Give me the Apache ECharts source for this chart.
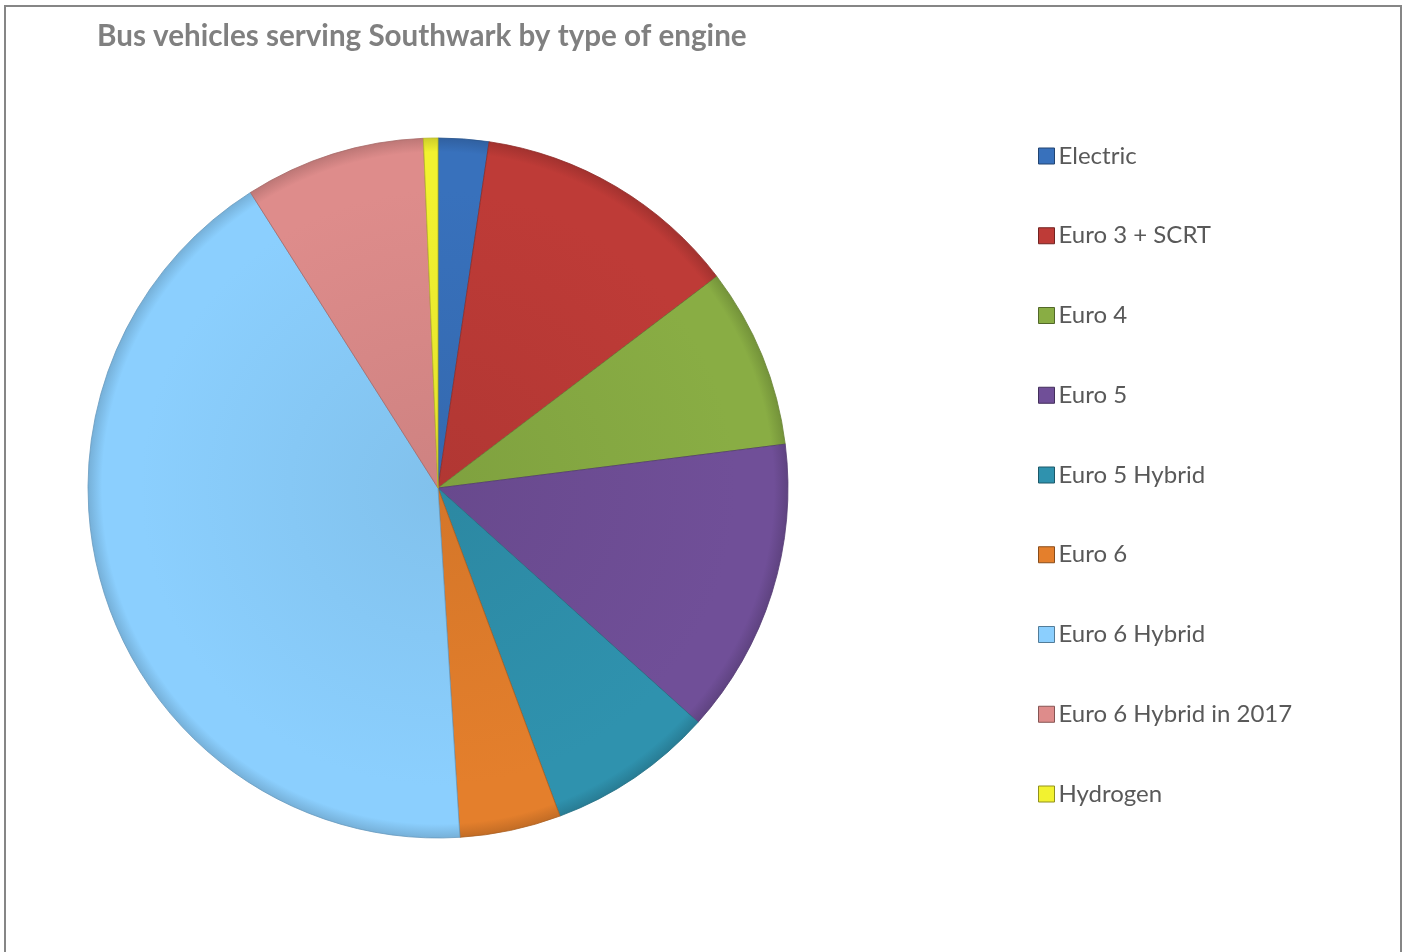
<!DOCTYPE html>
<html>
<head>
<meta charset="utf-8">
<script src="https://cdn.jsdelivr.net/npm/echarts@6/dist/echarts.min.js"></script>
<style>
html,body{margin:0;padding:0;background:#fff;}
#chart{width:1403px;height:952px;}
</style>
</head>
<body>
<div id="chart"></div>
<script>
const titleText = "Bus vehicles serving Southwark by type of engine";
const categories = ["Electric","Euro 3 + SCRT","Euro 4","Euro 5","Euro 5 Hybrid","Euro 6","Euro 6 Hybrid","Euro 6 Hybrid in 2017","Hydrogen"];
const values = [7, 37, 25, 41, 23, 14, 126, 25, 2];
const colors = ["#3871BC","#BE3B37","#89AD44","#704F98","#2F92AE","#E47F2C","#8BCFFE","#DE8C8B","#F2F230"];

const chart = echarts.init(document.getElementById('chart'));
const cx = 438, cy = 488, R = 350;
function shade(hex, f){
  const n = parseInt(hex.slice(1),16);
  let r=(n>>16)&255,g=(n>>8)&255,b=n&255;
  r=Math.round(r*f);g=Math.round(g*f);b=Math.round(b*f);
  return 'rgb('+r+','+g+','+b+')';
}
const data = categories.map((c,i)=>({
  name:c, value:values[i],
  itemStyle:{
    color:{type:'radial',x:cx,y:cy,r:R,global:true,colorStops:[
      {offset:0,color:shade(colors[i],0.93)},
      {offset:0.85,color:colors[i]},
      {offset:0.96,color:colors[i]},
      {offset:1,color:shade(colors[i],0.85)}
    ]},
    borderColor:shade(colors[i],0.75),
    borderWidth:0.8
  }
}));
chart.setOption({
  animation:false,
  backgroundColor:'#fff',
  color:colors,
  title:{
    text:titleText,
    left:92, top:16,
    textStyle:{fontFamily:'Lato',fontWeight:'bold',fontSize:29.6,color:'#808080'}
  },
  graphic:[{
    type:'rect', shape:{x:5,y:6,width:1396,height:1000},
    style:{fill:'none',stroke:'#868686',lineWidth:2}, silent:true
  }],
  legend:{
    orient:'vertical',
    left:1033, top:139,
    icon:'rect', itemWidth:16, itemHeight:16,
    itemGap:55.75,
    textStyle:{fontFamily:'Lato',fontSize:24,color:'#595959',padding:[0,0,0,-1]},
    data:categories.map((c,i)=>({name:c,itemStyle:{color:colors[i],borderColor:shade(colors[i],0.6),borderWidth:1}}))
  },
  series:[{
    type:'pie',
    center:[cx,cy],
    radius:R,
    startAngle:90,
    clockwise:true,
    label:{show:false},
    labelLine:{show:false},
    emphasis:{disabled:true},
    data:data
  }]
});
</script>
</body>
</html>
